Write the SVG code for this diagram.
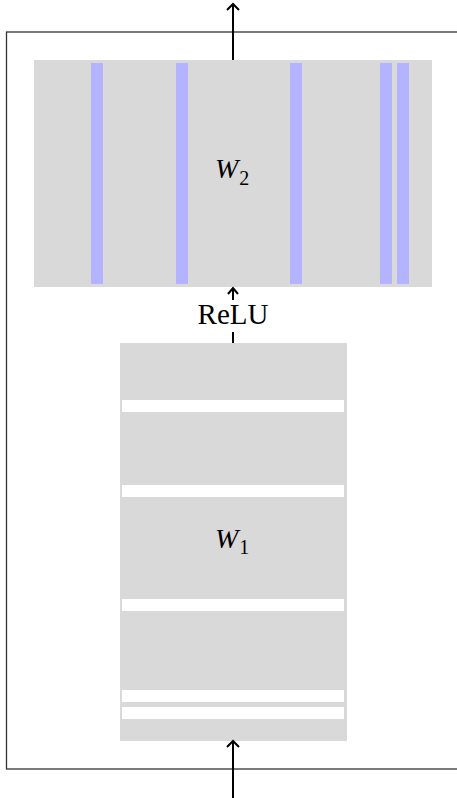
<svg xmlns="http://www.w3.org/2000/svg" width="457" height="798" viewBox="0 0 457 798">
  <style>
    .box { fill: #d9d9d9; }
    .blue { fill: #b3b3ff; }
    .gap { fill: #ffffff; }
    .frame { fill: none; stroke: #333; stroke-width: 1.3; }
    .conn { fill: none; stroke: #000; stroke-width: 2; }
    .lbl { font-family: "Liberation Serif", "Times New Roman", serif; fill: #000; }
  </style>
  <rect id="frame" class="frame" x="6.5" y="32" width="470" height="737"/>
  <g id="W2">
    <rect class="box" x="34" y="60" width="398" height="227"/>
    <rect class="blue" x="91" y="63" width="12" height="221"/>
    <rect class="blue" x="176" y="63" width="12" height="221"/>
    <rect class="blue" x="290" y="63" width="12" height="221"/>
    <rect class="blue" x="380" y="63" width="12" height="221"/>
    <rect class="blue" x="397" y="63" width="12" height="221"/>
    <text class="lbl" x="215" y="178" font-size="28"><tspan font-style="italic">W</tspan><tspan font-size="20" dx="1" dy="7">2</tspan></text>
  </g>
  <g id="W1">
    <rect class="box" x="120" y="343" width="227" height="398"/>
    <rect class="gap" x="122" y="400" width="222" height="12"/>
    <rect class="gap" x="122" y="485" width="222" height="12"/>
    <rect class="gap" x="122" y="599" width="222" height="12"/>
    <rect class="gap" x="122" y="690" width="222" height="12"/>
    <rect class="gap" x="122" y="707" width="222" height="12"/>
    <text class="lbl" x="215" y="548" font-size="28"><tspan font-style="italic">W</tspan><tspan font-size="20" dx="1" dy="6">1</tspan></text>
  </g>
  <g id="connectors">
    <path class="conn" d="M233 60 V4 M227 10 L233 4 L239 10"/>
    <path class="conn" d="M233 343 V288 M228 294 L233 288 L238 294"/>
    <path class="conn" d="M233 798 V741 M227 747 L233 741 L239 747"/>
  </g>
  <g id="relu">
    <rect x="196" y="300" width="74" height="32" fill="#fff"/>
    <text class="lbl" x="233" y="324" font-size="29" text-anchor="middle">ReLU</text>
  </g>
</svg>
